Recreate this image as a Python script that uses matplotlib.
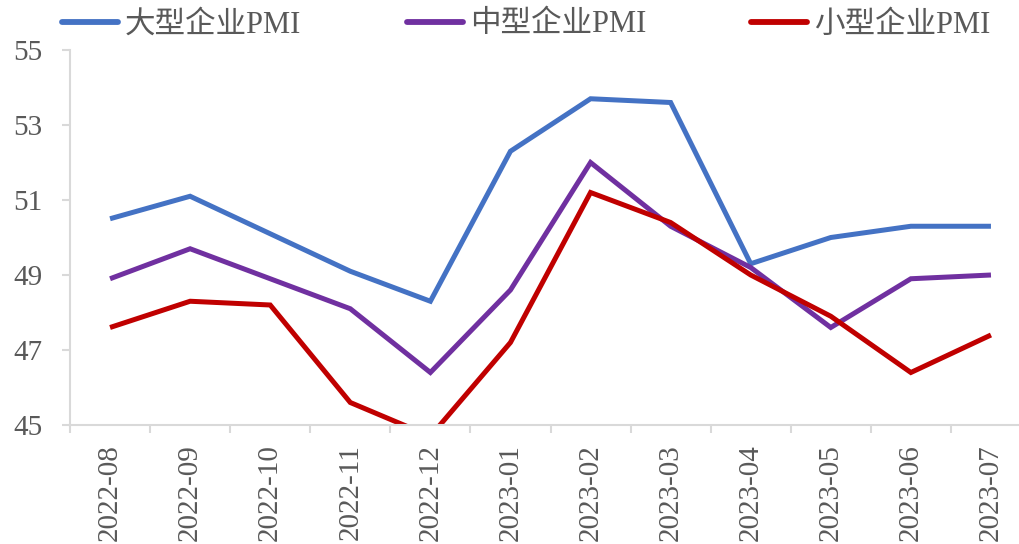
import matplotlib
matplotlib.use("Agg")
import matplotlib.pyplot as plt
import numpy as np

# Monthly PMI by enterprise size
months = ["2022-08", "2022-09", "2022-10", "2022-11", "2022-12", "2023-01",
          "2023-02", "2023-03", "2023-04", "2023-05", "2023-06", "2023-07"]
large_pmi = [50.5, 51.1, 50.1, 49.1, 48.3, 52.3, 53.7, 53.6, 49.3, 50.0, 50.3, 50.3]
medium_pmi = [48.9, 49.7, 48.9, 48.1, 46.4, 48.6, 52.0, 50.3, 49.2, 47.6, 48.9, 49.0]
small_pmi = [47.6, 48.3, 48.2, 45.6, 44.7, 47.2, 51.2, 50.4, 49.0, 47.9, 46.4, 47.4]
series_names = ["大型企业PMI", "中型企业PMI", "小型企业PMI"]
colors = ["#4472C4", "#7030A0", "#C00000"]
y_ticks = [45, 47, 49, 51, 53, 55]

text_color = "#595959"
axis_color = "#D9D9D9"
serif_fonts = ["Liberation Serif", "Noto Sans CJK SC", "DejaVu Sans"]
plt.rcParams["font.family"] = serif_fonts

fig = plt.figure(figsize=(10.19, 5.44), dpi=100)
W, H = 1019, 544
x_left, x_right = 70, 1031
y_top, y_bottom = 50, 425
ax = fig.add_axes([x_left / W, 1 - y_bottom / H,
                   (x_right - x_left) / W, (y_bottom - y_top) / H])

x = np.arange(len(months))
handles = []
for vals, name, c in zip([large_pmi, medium_pmi, small_pmi], series_names, colors):
    h, = ax.plot(x, vals, color=c, lw=3.6, label=name,
                 solid_joinstyle="miter", solid_capstyle="butt")
    handles.append(h)

ax.set_xlim(-0.5, len(months) - 0.5)
ax.set_ylim(45, 55)
ax.set_yticks(y_ticks)
ax.set_xticks(x)
ax.set_xticklabels(months, rotation=90)
ax.set_xticks(np.arange(-0.5, len(months), 1.0), minor=True)

for s in ["top", "right"]:
    ax.spines[s].set_visible(False)
for s in ["left", "bottom"]:
    ax.spines[s].set_color(axis_color)
    ax.spines[s].set_linewidth(1.5)

ax.tick_params(axis="x", which="major", length=0, pad=14,
               labelsize=21, labelcolor=text_color)
ax.tick_params(axis="x", which="minor", length=6, width=1.5,
               color=axis_color, direction="out")
ax.tick_params(axis="y", length=6, width=1.5, color=axis_color,
               direction="out", pad=14, labelsize=21, labelcolor=text_color)

leg = fig.legend(handles=handles, loc="center left",
                 bbox_to_anchor=(62 / W, 1 - 25 / H), ncol=3, frameon=False,
                 fontsize=22, handlelength=1.83, handletextpad=0.23,
                 columnspacing=3.45, borderpad=0, borderaxespad=0)
for t in leg.get_texts():
    t.set_color(text_color)
for lh in leg.get_lines():
    lh.set_linewidth(4.2)
    lh.set_solid_capstyle("round")

fig.savefig("out.png", dpi=100)
